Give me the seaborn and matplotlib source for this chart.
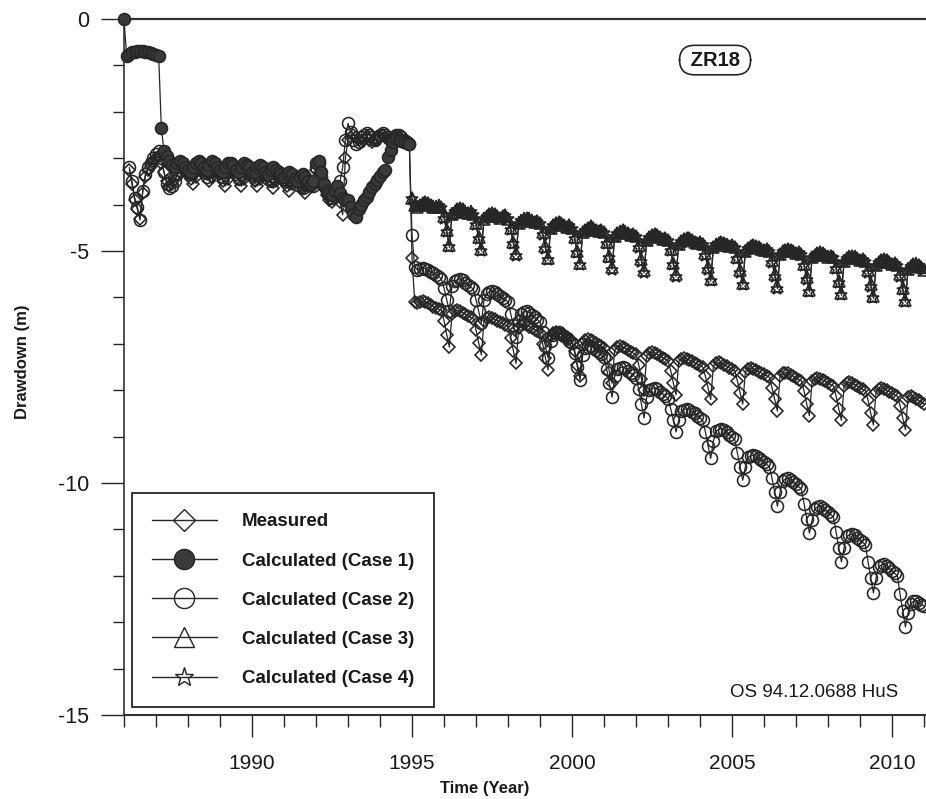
import numpy as np
import pandas as pd
import matplotlib
matplotlib.use("Agg")
import matplotlib.pyplot as plt
from matplotlib.lines import Line2D
from matplotlib.ticker import MultipleLocator
import seaborn as sns

nan = np.nan

# ---------------- data ----------------
series_names = ["Measured", "Calculated (Case 1)", "Calculated (Case 2)",
                "Calculated (Case 3)", "Calculated (Case 4)"]

# monthly values 1986.0 ... 1994.917 (calibration period)
measured_pre = [
    nan, nan, -3.25, -3.55, -3.90, -4.10, -4.30, -3.75, -3.40, -3.25, -3.15, -3.05,
    -3.00, -2.95, -3.10, -3.30, -3.50, -3.60, -3.55, -3.45, -3.35, -3.30, -3.25, -3.30,
    -3.35, -3.45, -3.55, -3.40, -3.25, -3.20, -3.25, -3.35, -3.50, -3.40, -3.30, -3.30,
    -3.35, -3.50, -3.60, -3.45, -3.30, -3.25, -3.30, -3.45, -3.60, -3.45, -3.35, -3.35,
    -3.40, -3.50, -3.60, -3.45, -3.35, -3.35, -3.40, -3.50, -3.65, -3.50, -3.40, -3.45,
    -3.50, -3.60, -3.70, -3.55, -3.45, -3.50, -3.55, -3.65, -3.75, -3.60, -3.55, -3.60,
    -3.25, -3.15, -3.45, -3.65, -3.80, -3.90, -3.95, -3.85, -3.80, -3.95, -4.22, -3.00,
    -2.60, -2.55, -2.50, -2.55, -2.60, -2.65, -2.60, -2.55, -2.60, -2.65, -2.60, -2.60,
    -2.55, -2.50, -2.55, -2.60, -2.65, -2.60, -2.55, -2.55, -2.60, -2.65, -2.70, -2.70,
]
case1_pre = [
    0.00, -0.80, -0.75, -0.72, -0.71, -0.70, -0.70, -0.70, -0.71, -0.72, -0.73, -0.75,
    -0.77, -0.80, -2.35, -2.85, -2.95, -3.05, -3.15, -3.20, -3.10, -3.05, -3.10, -3.20,
    -3.25, -3.30, -3.20, -3.10, -3.05, -3.10, -3.20, -3.25, -3.15, -3.05, -3.10, -3.20,
    -3.25, -3.30, -3.20, -3.10, -3.10, -3.15, -3.25, -3.30, -3.20, -3.10, -3.15, -3.20,
    -3.30, -3.30, -3.20, -3.15, -3.20, -3.30, -3.35, -3.25, -3.20, -3.25, -3.30, -3.35,
    -3.40, -3.35, -3.30, -3.35, -3.45, -3.50, -3.40, -3.35, -3.40, -3.50, -3.55, -3.50,
    -3.10, -3.05, -3.30, -3.55, -3.70, -3.75, -3.80, -3.70, -3.60, -3.75, -3.85, -3.90,
    -3.90, -4.05, -4.20, -4.27, -4.10, -4.00, -3.90, -3.83, -3.72, -3.62, -3.55, -3.47,
    -3.38, -3.30, -3.25, -2.97, -2.82, -2.65, -2.58, -2.60, -2.62, -2.65, -2.68, -2.70,
]
case2_pre = [
    nan, nan, -3.20, -3.50, -3.85, -4.05, -4.33, -3.70, -3.35, -3.20, -3.10, -3.00,
    -2.90, -2.85, -3.00, -3.30, -3.55, -3.65, -3.60, -3.50, -3.35, -3.25, -3.20, -3.25,
    -3.30, -3.35, -3.30, -3.20, -3.15, -3.20, -3.30, -3.40, -3.30, -3.20, -3.20, -3.25,
    -3.30, -3.40, -3.30, -3.20, -3.20, -3.25, -3.35, -3.45, -3.35, -3.25, -3.25, -3.30,
    -3.35, -3.45, -3.35, -3.30, -3.30, -3.35, -3.45, -3.50, -3.40, -3.35, -3.35, -3.40,
    -3.45, -3.50, -3.45, -3.40, -3.45, -3.50, -3.60, -3.65, -3.55, -3.50, -3.55, -3.60,
    -3.20, -3.10, -3.40, -3.60, -3.75, -3.80, -3.85, -3.75, -3.70, -3.50, -3.20, -2.60,
    -2.25, -2.43, -2.60, -2.70, -2.65, -2.55, -2.50, -2.45, -2.50, -2.55, -2.60, -2.55,
    -2.50, -2.45, -2.50, -2.55, -2.60, -2.55, -2.50, -2.50, -2.55, -2.60, -2.65, -2.70,
]

# monthly values 1995.0 ... 2011.0 (prediction period)
measured_post = [
    -5.15, -6.10, -6.12, -6.10, -6.08, -6.10, -6.13, -6.16, -6.20, -6.23, -6.25, -6.28, -6.50, -6.80, -7.07,
    -6.35, -6.30, -6.28, -6.30, -6.33, -6.36, -6.40, -6.43, -6.46, -6.70, -6.98, -7.24,
    -6.50, -6.44, -6.42, -6.44, -6.47, -6.50, -6.53, -6.56, -6.60, -6.62, -6.88, -7.15, -7.42,
    -6.66, -6.60, -6.58, -6.60, -6.63, -6.66, -6.70, -6.73, -6.76, -7.00, -7.30, -7.56,
    -6.83, -6.77, -6.75, -6.77, -6.80, -6.83, -6.87, -6.90, -6.93, -7.15, -7.45, -7.70,
    -6.98, -6.92, -6.90, -6.92, -6.95, -6.98, -7.02, -7.05, -7.08, -7.30, -7.60, -7.85,
    -7.13, -7.07, -7.05, -7.07, -7.10, -7.13, -7.17, -7.20, -7.23, -7.45, -7.75, -8.00,
    -7.26, -7.20, -7.18, -7.20, -7.23, -7.26, -7.30, -7.33, -7.36, -7.58, -7.85, -8.10,
    -7.38, -7.32, -7.30, -7.32, -7.35, -7.38, -7.41, -7.44, -7.47, -7.50, -7.70, -7.95, -8.20,
    -7.48, -7.42, -7.40, -7.42, -7.45, -7.48, -7.52, -7.55, -7.58, -7.80, -8.05, -8.30,
    -7.60, -7.54, -7.52, -7.54, -7.57, -7.60, -7.63, -7.66, -7.69, -7.72, -7.95, -8.20, -8.45,
    -7.70, -7.64, -7.62, -7.64, -7.67, -7.70, -7.74, -7.77, -7.80, -8.02, -8.30, -8.55,
    -7.81, -7.75, -7.73, -7.75, -7.78, -7.81, -7.85, -7.88, -7.91, -8.12, -8.40, -8.65,
    -7.91, -7.85, -7.83, -7.85, -7.88, -7.91, -7.95, -7.98, -8.01, -8.22, -8.50, -8.75,
    -8.03, -7.97, -7.95, -7.97, -8.00, -8.03, -8.07, -8.10, -8.13, -8.33, -8.60, -8.85,
    -8.15, -8.12, -8.15, -8.18, -8.22, -8.26, -8.30,
]
case2_post = [
    -4.66, -5.35, -5.40, -5.38, -5.36, -5.38, -5.42, -5.45, -5.48, -5.52, -5.55, -5.60, -5.80, -6.05, -6.30,
    -5.75, -5.65, -5.62, -5.60, -5.63, -5.68, -5.73, -5.78, -5.82, -6.05, -6.30, -6.55,
    -6.05, -5.92, -5.88, -5.86, -5.88, -5.92, -5.97, -6.02, -6.06, -6.10, -6.35, -6.60, -6.85,
    -6.50, -6.35, -6.32, -6.30, -6.33, -6.38, -6.43, -6.48, -6.53, -6.75, -7.05, -7.30,
    -6.95, -6.80, -6.77, -6.75, -6.78, -6.83, -6.88, -6.93, -6.98, -7.20, -7.50, -7.78,
    -7.25, -7.10, -7.07, -7.05, -7.08, -7.13, -7.18, -7.23, -7.28, -7.55, -7.85, -8.15,
    -7.70, -7.55, -7.52, -7.50, -7.53, -7.58, -7.63, -7.68, -7.73, -7.98, -8.30, -8.60,
    -8.15, -8.00, -7.97, -7.95, -7.98, -8.03, -8.08, -8.13, -8.18, -8.40, -8.65, -8.90,
    -8.65, -8.45, -8.42, -8.40, -8.42, -8.46, -8.50, -8.55, -8.60, -8.65, -8.90, -9.20, -9.47,
    -9.10, -8.88, -8.85, -8.83, -8.86, -8.91, -8.96, -9.01, -9.06, -9.35, -9.65, -9.94,
    -9.65, -9.45, -9.42, -9.40, -9.42, -9.46, -9.50, -9.55, -9.60, -9.65, -9.90, -10.20, -10.50,
    -10.20, -9.95, -9.92, -9.90, -9.93, -9.98, -10.03, -10.08, -10.13, -10.45, -10.78, -11.08,
    -10.80, -10.55, -10.52, -10.50, -10.53, -10.58, -10.63, -10.68, -10.73, -11.05, -11.40, -11.70,
    -11.40, -11.15, -11.12, -11.10, -11.13, -11.18, -11.23, -11.28, -11.33, -11.70, -12.05, -12.37,
    -12.05, -11.80, -11.77, -11.75, -11.78, -11.84, -11.90, -11.95, -12.00, -12.40, -12.75, -13.10,
    -12.80, -12.60, -12.55, -12.55, -12.58, -12.62, -12.65,
]
case3_post = [
    -3.86, -4.00, -4.05, -4.00, -3.97, -3.95, -3.97, -4.00, -4.05, -4.05, -4.02, -4.05, -4.25, -4.55, -4.87,
    -4.20, -4.15, -4.10, -4.08, -4.10, -4.15, -4.18, -4.15, -4.20, -4.40, -4.70, -4.95,
    -4.30, -4.25, -4.20, -4.18, -4.20, -4.25, -4.28, -4.25, -4.22, -4.30, -4.50, -4.80, -5.05,
    -4.40, -4.35, -4.30, -4.28, -4.30, -4.35, -4.38, -4.35, -4.40, -4.60, -4.90, -5.15,
    -4.50, -4.45, -4.40, -4.38, -4.40, -4.45, -4.48, -4.45, -4.50, -4.70, -5.00, -5.25,
    -4.60, -4.55, -4.50, -4.47, -4.50, -4.55, -4.57, -4.55, -4.60, -4.80, -5.10, -5.35,
    -4.68, -4.62, -4.58, -4.55, -4.58, -4.62, -4.65, -4.63, -4.68, -4.88, -5.18, -5.42,
    -4.76, -4.70, -4.66, -4.64, -4.66, -4.70, -4.74, -4.72, -4.76, -4.96, -5.26, -5.50,
    -4.84, -4.78, -4.74, -4.72, -4.73, -4.76, -4.80, -4.82, -4.80, -4.85, -5.05, -5.35, -5.60,
    -4.92, -4.86, -4.82, -4.80, -4.82, -4.86, -4.90, -4.88, -4.92, -5.12, -5.42, -5.68,
    -5.00, -4.94, -4.90, -4.88, -4.89, -4.92, -4.96, -4.98, -4.96, -5.00, -5.20, -5.50, -5.76,
    -5.07, -5.01, -4.97, -4.95, -4.97, -5.01, -5.05, -5.03, -5.07, -5.27, -5.57, -5.83,
    -5.14, -5.08, -5.04, -5.02, -5.04, -5.08, -5.12, -5.10, -5.14, -5.34, -5.64, -5.90,
    -5.22, -5.16, -5.12, -5.10, -5.12, -5.16, -5.20, -5.18, -5.22, -5.42, -5.72, -5.97,
    -5.30, -5.24, -5.20, -5.18, -5.20, -5.24, -5.28, -5.26, -5.30, -5.50, -5.80, -6.05,
    -5.38, -5.32, -5.28, -5.27, -5.30, -5.35, -5.40,
]
case4_post = [
    -3.88, -4.02, -4.06, -4.02, -3.98, -3.96, -3.98, -4.02, -4.06, -4.06, -4.04, -4.07, -4.30, -4.60, -4.92,
    -4.22, -4.16, -4.12, -4.10, -4.12, -4.16, -4.20, -4.17, -4.22, -4.45, -4.75, -5.00,
    -4.32, -4.26, -4.22, -4.20, -4.22, -4.26, -4.30, -4.27, -4.24, -4.32, -4.55, -4.85, -5.10,
    -4.42, -4.36, -4.32, -4.30, -4.32, -4.36, -4.40, -4.37, -4.42, -4.65, -4.95, -5.20,
    -4.52, -4.46, -4.42, -4.40, -4.42, -4.46, -4.50, -4.47, -4.52, -4.75, -5.05, -5.30,
    -4.62, -4.56, -4.52, -4.49, -4.52, -4.56, -4.59, -4.57, -4.62, -4.85, -5.15, -5.40,
    -4.70, -4.64, -4.60, -4.57, -4.60, -4.64, -4.67, -4.65, -4.70, -4.93, -5.23, -5.47,
    -4.78, -4.72, -4.68, -4.66, -4.68, -4.72, -4.76, -4.74, -4.78, -5.01, -5.31, -5.55,
    -4.86, -4.80, -4.76, -4.74, -4.75, -4.78, -4.82, -4.84, -4.82, -4.87, -5.10, -5.40, -5.65,
    -4.94, -4.88, -4.84, -4.82, -4.84, -4.88, -4.92, -4.90, -4.94, -5.17, -5.47, -5.73,
    -5.02, -4.96, -4.92, -4.90, -4.91, -4.94, -4.98, -5.00, -4.98, -5.02, -5.25, -5.55, -5.81,
    -5.09, -5.03, -4.99, -4.97, -4.99, -5.03, -5.07, -5.05, -5.09, -5.32, -5.62, -5.88,
    -5.16, -5.10, -5.06, -5.04, -5.06, -5.10, -5.14, -5.12, -5.16, -5.39, -5.69, -5.95,
    -5.24, -5.18, -5.14, -5.12, -5.14, -5.18, -5.22, -5.20, -5.24, -5.47, -5.77, -6.02,
    -5.32, -5.26, -5.22, -5.20, -5.22, -5.26, -5.30, -5.28, -5.32, -5.55, -5.85, -6.10,
    -5.40, -5.34, -5.30, -5.29, -5.32, -5.37, -5.42,
]

x_ticks = [1990, 1995, 2000, 2005, 2010]
y_ticks = [0, -5, -10, -15]
y_tick_labels = ["0", "-5", "-10", "-15"]

for arr in (measured_pre, case1_pre, case2_pre):
    assert len(arr) == 108, len(arr)
for arr in (measured_post, case2_post, case3_post, case4_post):
    assert len(arr) == 193, len(arr)

months_pre = 1986 + np.arange(108) / 12.0
months_post = 1995 + np.arange(193) / 12.0

def frame(t, v, name):
    d = pd.DataFrame({"time": t, "drawdown": v, "series": name})
    return d.dropna()

df = pd.concat([
    frame(np.r_[months_pre, months_post], measured_pre + measured_post, series_names[0]),
    frame(months_pre, case1_pre, series_names[1]),
    frame(np.r_[months_pre, months_post], case2_pre + case2_post, series_names[2]),
    frame(months_post, case3_post, series_names[3]),
    frame(months_post, case4_post, series_names[4]),
], ignore_index=True)

# ---------------- style ----------------
sns.set_theme(style="ticks")
plt.rcParams["font.family"] = ["Liberation Sans", "DejaVu Sans"]
plt.rcParams["axes.unicode_minus"] = False

ink = "#262626"
fig = plt.figure(figsize=(9.26, 7.99), dpi=100)
ax = fig.add_axes([124 / 926, 84 / 799, 802 / 926, 696 / 799])

styles = {
    series_names[0]: dict(marker="D", ms=6.2, mfc="none"),
    series_names[1]: dict(marker="o", ms=8.6, mfc="#3a3a3a"),
    series_names[2]: dict(marker="o", ms=8.6, mfc="none"),
    series_names[3]: dict(marker="^", ms=8.0, mfc="none"),
    series_names[4]: dict(marker="*", ms=9.5, mfc="none"),
}
order = [series_names[0], series_names[2], series_names[3], series_names[4], series_names[1]]
for z, name in enumerate(order):
    sub = df[df["series"] == name]
    st = styles[name]
    sns.lineplot(data=sub, x="time", y="drawdown", ax=ax, estimator=None,
                 color=ink, linewidth=0.9, marker=st["marker"],
                 markersize=st["ms"], markerfacecolor=st["mfc"],
                 markeredgecolor=ink, markeredgewidth=1.15, legend=False)
    ln = ax.lines[-1]
    ln.set_markerfacecolor(st["mfc"])
    ln.set_markeredgecolor(ink)
    ln.set_markeredgewidth(1.15)
    ln.set_zorder(2 + z)
    ln.set_clip_on(False)

ax.set_xlim(1986.0, 2011.06)
ax.set_ylim(-15, 0)
ax.set_xticks(x_ticks)
ax.set_xticklabels([str(v) for v in x_ticks])
ax.xaxis.set_minor_locator(MultipleLocator(1))
ax.set_yticks(y_ticks)
ax.set_yticklabels(y_tick_labels)
ax.yaxis.set_minor_locator(MultipleLocator(1))

ax.tick_params(axis="x", which="major", direction="out", length=16, width=1.0,
               pad=12, labelsize=15, color=ink, labelcolor="#1a1a1a")
ax.tick_params(axis="x", which="minor", direction="out", length=8.5, width=1.0, color=ink)
ax.tick_params(axis="y", which="major", direction="out", length=16.5, width=1.0,
               pad=8.5, labelsize=15.5, color=ink, labelcolor="#1a1a1a")
ax.tick_params(axis="y", which="minor", direction="out", length=8, width=1.0, color=ink)

for side in ["left", "bottom", "top"]:
    ax.spines[side].set_visible(True)
    ax.spines[side].set_color("#333333")
ax.spines["right"].set_visible(False)
ax.spines["top"].set_linewidth(1.6)
ax.spines["bottom"].set_linewidth(1.5)
ax.spines["left"].set_linewidth(1.2)
ax.grid(False)

ax.set_xlabel("Time (Year)", fontsize=12, fontweight="bold", va="center", color="#1a1a1a")
ax.xaxis.set_label_coords(0.450, -0.105)
ax.set_ylabel("Drawdown (m)", fontsize=12, fontweight="bold", va="center", color="#1a1a1a")
ax.yaxis.set_label_coords(-0.127, 0.508)

ax.text(0.737, 0.941, " ZR18 ", transform=ax.transAxes, ha="center", va="center",
        fontsize=14.5, fontweight="bold", color="#1a1a1a",
        bbox=dict(boxstyle="round,pad=0.26,rounding_size=0.75", fc="white", ec=ink, lw=1.2))
ax.text(0.965, 0.033, "OS 94.12.0688 HuS", transform=ax.transAxes, ha="right",
        va="center", fontsize=13.5, color="#1a1a1a")

handles = [
    Line2D([0], [0], color=ink, lw=1.0, marker="D", markersize=11, mfc="none", mec=ink, mew=1.0),
    Line2D([0], [0], color=ink, lw=1.0, marker="o", markersize=14.5, mfc="#3a3a3a", mec=ink, mew=1.0),
    Line2D([0], [0], color=ink, lw=1.0, marker="o", markersize=14.5, mfc="none", mec=ink, mew=1.0),
    Line2D([0], [0], color=ink, lw=1.0, marker="^", markersize=14, mfc="none", mec=ink, mew=1.0),
    Line2D([0], [0], color=ink, lw=1.0, marker="*", markersize=14, mfc="none", mec=ink, mew=1.0),
]
leg = ax.legend(handles, series_names, loc="lower left", bbox_to_anchor=(0.010, 0.0115),
                borderaxespad=0, frameon=True, fancybox=False, framealpha=1,
                edgecolor=ink, facecolor="white",
                prop=dict(weight="bold", size=13.5), handlelength=3.47, handletextpad=1.33,
                labelspacing=1.18, borderpad=1.05)
leg.get_frame().set_linewidth(1.3)
leg.set_zorder(20)
for t in leg.get_texts():
    t.set_color("#1a1a1a")

fig.savefig("out.png", dpi=100)
